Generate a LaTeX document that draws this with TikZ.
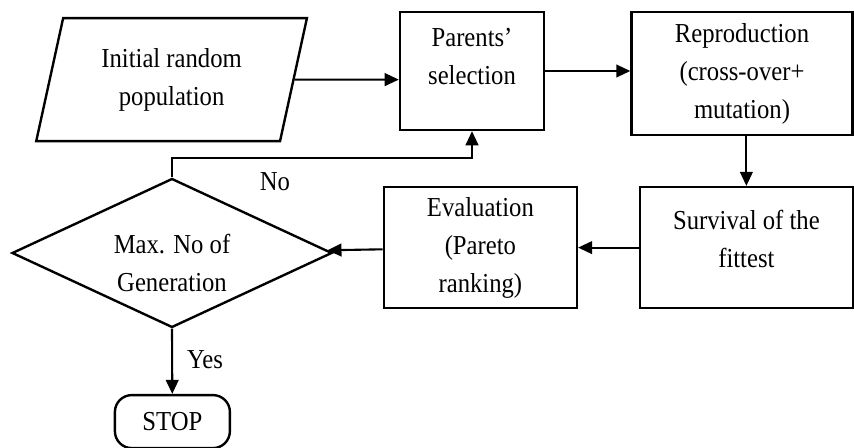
\documentclass[tikz,border=0pt]{standalone}
\usepackage{fontspec}
\setmainfont{Liberation Serif}[FakeStretch=0.9]
\usepackage{tikz}
\usetikzlibrary{shapes.geometric, arrows.meta, positioning, calc}

\begin{document}
\begin{tikzpicture}[
    font=\fontsize{19.5}{27}\selectfont,
    box/.style={rectangle,draw,line width=1.7pt,align=center,inner sep=2pt},
    arr/.style={-{Triangle[length=10pt,width=9pt]},line width=1.5pt},
    lbl/.style={inner sep=1pt}
]
    \useasboundingbox (0,0) rectangle (21.35,-11.2);
    % Ciclo principale
    \node[trapezium,trapezium left angle=74.5,trapezium right angle=105.5,trapezium stretches=true,draw,line width=1.7pt,minimum width=6.775cm,minimum height=3.075cm,align=center,inner sep=0pt] (init) at (4.29,-1.99) {Initial random \\ population};
    \node[box,minimum width=3.6cm,minimum height=2.95cm] (sel) at (11.8,-1.775) {Parents' \\ selection \\[-6pt]};
    \node[box,minimum width=5.525cm,minimum height=3.075cm] (rep) at (18.55,-1.84) {Reproduction \\ (cross-over+ \\ mutation)};
    \node[box,minimum width=5.325cm,minimum height=3.025cm] (surv) at (18.66,-6.19) {Survival of the \\ fittest \\[-14pt]};
    \node[box,minimum width=4.825cm,minimum height=3.025cm] (eval) at (12.01,-6.19) {Evaluation \\ (Pareto \\ ranking)};
    \node[diamond,draw,line width=1.7pt,aspect=2.15,minimum width=8cm,minimum height=3.725cm,inner sep=0pt] (dec) at (4.3,-6.325) {};
    \node[lbl,align=center] (dectxt) at ([yshift=-0.25cm]dec.center) {Max. No of \\ Generation};
    \node[rectangle,draw,line width=1.7pt,rounded corners=12pt,minimum width=2.875cm,minimum height=1.325cm] (stop) at (4.31,-10.54) {STOP};

    \draw[arr] (init) -- (init -| sel.west);
    \draw[arr] (sel) -- (sel -| rep.west);
    \draw[arr] (rep.south -| surv.north) -- (surv.north);
    \draw[arr] (surv) -- (eval);
    \draw[arr] (eval) -- (dec);
    \draw[arr] (dec.north) -- ++(0,0.49) -| (sel.south);
    \draw[arr] (dec.south) -- (stop);

    % Etichette
    \node[lbl] (no) at (6.875,-4.55) {No};
    \node[lbl] (yes) at (5.125,-9.0) {Yes};
\end{tikzpicture}
\end{document}
